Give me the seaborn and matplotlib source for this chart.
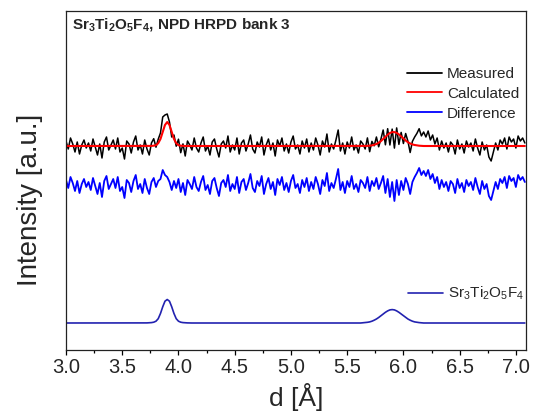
import numpy as np
import pandas as pd
import matplotlib
matplotlib.use("Agg")
import matplotlib.pyplot as plt
import seaborn as sns
from matplotlib.ticker import MultipleLocator

# ---------------- data ----------------
d_start, d_step, n_points = 3.00, 0.02, 205   # d grid [Å]

measured = [
    209, 201, 212, 206, 198, 208, 196, 205, 210, 202,
    207, 199, 211, 203, 195, 206, 192, 208, 213, 200,
    205, 210, 201, 212, 198, 202, 191, 209, 206, 197,
    208, 214, 200, 205, 196, 210, 201, 195, 207.1, 211.3,
    202.8, 210.8, 217.0, 233.0, 235.0, 236.0, 228.0, 213.0, 215.0, 203.8,
    210.8, 197.3, 206.1, 194, 209, 205, 200, 212, 202, 198,
    207, 213, 199, 204, 195, 208, 211, 201, 193, 206,
    209, 202, 214, 198, 205, 200, 212, 196, 207, 210,
    199, 206, 215, 201, 197, 208, 203, 213, 195, 205,
    211, 200, 207, 194, 210, 204, 212, 199, 206, 197,
    208, 214, 201, 205, 196, 209, 202, 211, 198, 207,
    200, 212, 205, 195, 209, 203, 216, 198, 206, 201,
    210, 220, 199, 207, 196, 208, 202, 213, 200, 205,
    197, 209, 206, 201, 212.1, 198.3, 208.6, 204.2, 213.0, 203.2,
    210.9, 220.0, 205.2, 221.3, 205.0, 220.9, 201.9, 222.1, 205.6, 217.6,
    206.5, 216.5, 208.8, 197.5, 208.6, 213.0, 216.6, 221.3, 214.1, 218,
    213, 219, 210, 215, 206, 212, 200, 209, 202, 207,
    198, 208, 205, 196, 210, 201, 206, 197, 209, 203,
    207, 199, 211, 202, 195, 208, 200, 205, 193, 189,
    198, 207, 200, 210, 206, 212, 201, 213, 208, 211,
    202, 214, 209, 212, 207,
]

calculated = [
    204, 204, 204, 204, 204, 204, 204, 204, 204, 204,
    204, 204, 204, 204, 204, 204, 204, 204, 204, 204,
    204, 204, 204, 204, 204, 204, 204, 204, 204, 204,
    204, 204, 204, 204, 204, 204, 204, 204, 204.1, 204.3,
    204.8, 206.8, 211.0, 218.0, 225.0, 228.0, 225.0, 218.0, 211.0, 206.8,
    204.8, 204.3, 204.1, 204, 204, 204, 204, 204, 204, 204,
    204, 204, 204, 204, 204, 204, 204, 204, 204, 204,
    204, 204, 204, 204, 204, 204, 204, 204, 204, 204,
    204, 204, 204, 204, 204, 204, 204, 204, 204, 204,
    204, 204, 204, 204, 204, 204, 204, 204, 204, 204,
    204, 204, 204, 204, 204, 204, 204, 204, 204, 204,
    204, 204, 204, 204, 204, 204, 204, 204, 204, 204,
    204, 204, 204, 204, 204, 204, 204, 204, 204, 204,
    204, 204, 204, 204, 204.1, 204.3, 204.6, 205.2, 206.0, 207.2,
    208.9, 211.0, 213.2, 215.3, 217.0, 217.9, 217.9, 217.1, 215.6, 213.6,
    211.5, 209.5, 207.8, 206.5, 205.6, 205.0, 204.6, 204.3, 204.1, 204,
    204, 204, 204, 204, 204, 204, 204, 204, 204, 204,
    204, 204, 204, 204, 204, 204, 204, 204, 204, 204,
    204, 204, 204, 204, 204, 204, 204, 204, 204, 204,
    204, 204, 204, 204, 204, 204, 204, 204, 204, 204,
    204, 204, 204, 204, 204,
]

phase = [
    0, 0, 0, 0, 0, 0, 0, 0, 0, 0,
    0, 0, 0, 0, 0, 0, 0, 0, 0, 0,
    0, 0, 0, 0, 0, 0, 0, 0, 0, 0,
    0, 0, 0, 0, 0, 0, 0.1, 0.2, 0.4, 0.8,
    1.8, 4.3, 9.5, 16.2, 21.8, 23.5, 21.8, 16.2, 9.5, 4.3,
    1.8, 0.8, 0.4, 0.2, 0.1, 0, 0, 0, 0, 0,
    0, 0, 0, 0, 0, 0, 0, 0, 0, 0,
    0, 0, 0, 0, 0, 0, 0, 0, 0, 0,
    0, 0, 0, 0, 0, 0, 0, 0, 0, 0,
    0, 0, 0, 0, 0, 0, 0, 0, 0, 0,
    0, 0, 0, 0, 0, 0, 0, 0, 0, 0,
    0, 0, 0, 0, 0, 0, 0, 0, 0, 0,
    0, 0, 0, 0, 0, 0, 0, 0, 0, 0,
    0, 0, 0.2, 0.4, 0.7, 1.1, 1.8, 2.8, 4.0, 5.5,
    7.2, 9.0, 10.7, 12.1, 13.1, 13.4, 13.1, 12.1, 10.7, 9.0,
    7.2, 5.5, 4.0, 2.8, 1.8, 1.1, 0.7, 0.4, 0.2, 0,
    0, 0, 0, 0, 0, 0, 0, 0, 0, 0,
    0, 0, 0, 0, 0, 0, 0, 0, 0, 0,
    0, 0, 0, 0, 0, 0, 0, 0, 0, 0,
    0, 0, 0, 0, 0, 0, 0, 0, 0, 0,
    0, 0, 0, 0, 0,
]

series_labels = ["Measured", "Calculated", "Difference"]
phase_label = r"Sr$_3$Ti$_2$O$_5$F$_4$"
title_text = r"Sr$_3$Ti$_2$O$_5$F$_4$, NPD HRPD bank 3"
xtick_values = [3.0, 3.5, 4.0, 4.5, 5.0, 5.5, 6.0, 6.5, 7.0]
xlabel_text = "d [Å]"
ylabel_text = "Intensity [a.u.]"

# ---------------- build frame ----------------
d = np.round(d_start + d_step * np.arange(n_points), 2)
df = pd.DataFrame({"d": d, "measured": measured,
                   "calculated": calculated, "phase": phase})
df["difference"] = df["measured"] - df["calculated"]

diff_offset = 165.0
phase_offset = 27.0
df["diff_plot"] = df["difference"] + diff_offset
df["phase_plot"] = df["phase"] + phase_offset

# ---------------- style ----------------
sns.set_style("white")
plt.rcParams["font.family"] = ["Liberation Sans", "DejaVu Sans"]
plt.rcParams["mathtext.default"] = "regular"

fig = plt.figure(figsize=(5.34, 4.15), dpi=100)
ax = fig.add_axes([66 / 534, 1 - 350 / 415, 460 / 534, 339 / 415])

sns.lineplot(data=df, x="d", y="measured", color="black", lw=1.1,
             ax=ax, legend=False, estimator=None)
sns.lineplot(data=df, x="d", y="calculated", color="#ff0000", lw=1.5,
             ax=ax, legend=False, estimator=None)
sns.lineplot(data=df, x="d", y="diff_plot", color="#0000ff", lw=1.3,
             ax=ax, legend=False, estimator=None)
sns.lineplot(data=df, x="d", y="phase_plot", color="#2222b0", lw=1.2,
             ax=ax, legend=False, estimator=None)

ax.set_xlim(3.0, 7.09)
ax.set_ylim(0, 339)
ax.set_xticks(xtick_values)
ax.set_xticklabels([f"{v:.1f}" for v in xtick_values])
ax.xaxis.set_minor_locator(MultipleLocator(0.25))
ax.set_yticks([])
ax.tick_params(axis="x", which="major", direction="out", length=3.8,
               width=0.9, labelsize=14.5, color="black", pad=2,
               bottom=True, top=False)
ax.tick_params(axis="x", which="minor", direction="out", length=2.2,
               width=0.9, color="black", bottom=True, top=False)
for sp in ax.spines.values():
    sp.set_visible(True)
    sp.set_color("#222222")
    sp.set_linewidth(0.9)

ax.set_xlabel(xlabel_text, fontsize=19, labelpad=4)
ax.set_ylabel(ylabel_text, fontsize=20)
ax.yaxis.set_label_coords(-0.05, 0.442)

ax.text(0.013, 0.947, title_text, transform=ax.transAxes, fontsize=11,
        fontweight="bold", ha="left", va="baseline")

lines = ax.lines
leg1 = ax.legend(handles=lines[:3], labels=series_labels, loc="upper left",
                 bbox_to_anchor=(0.741, 0.835), frameon=False, fontsize=11,
                 handlelength=2.3, handletextpad=0.33, labelspacing=0.38,
                 borderpad=0, borderaxespad=0)
for h in leg1.get_lines():
    h.set_linewidth(1.3)
ax.add_artist(leg1)
leg2 = ax.legend(handles=[lines[3]], labels=[phase_label], loc="upper left",
                 bbox_to_anchor=(0.743, 0.192), frameon=False, fontsize=11,
                 handlelength=2.3, handletextpad=0.33, borderpad=0,
                 borderaxespad=0)

fig.savefig("out.png", dpi=100)
